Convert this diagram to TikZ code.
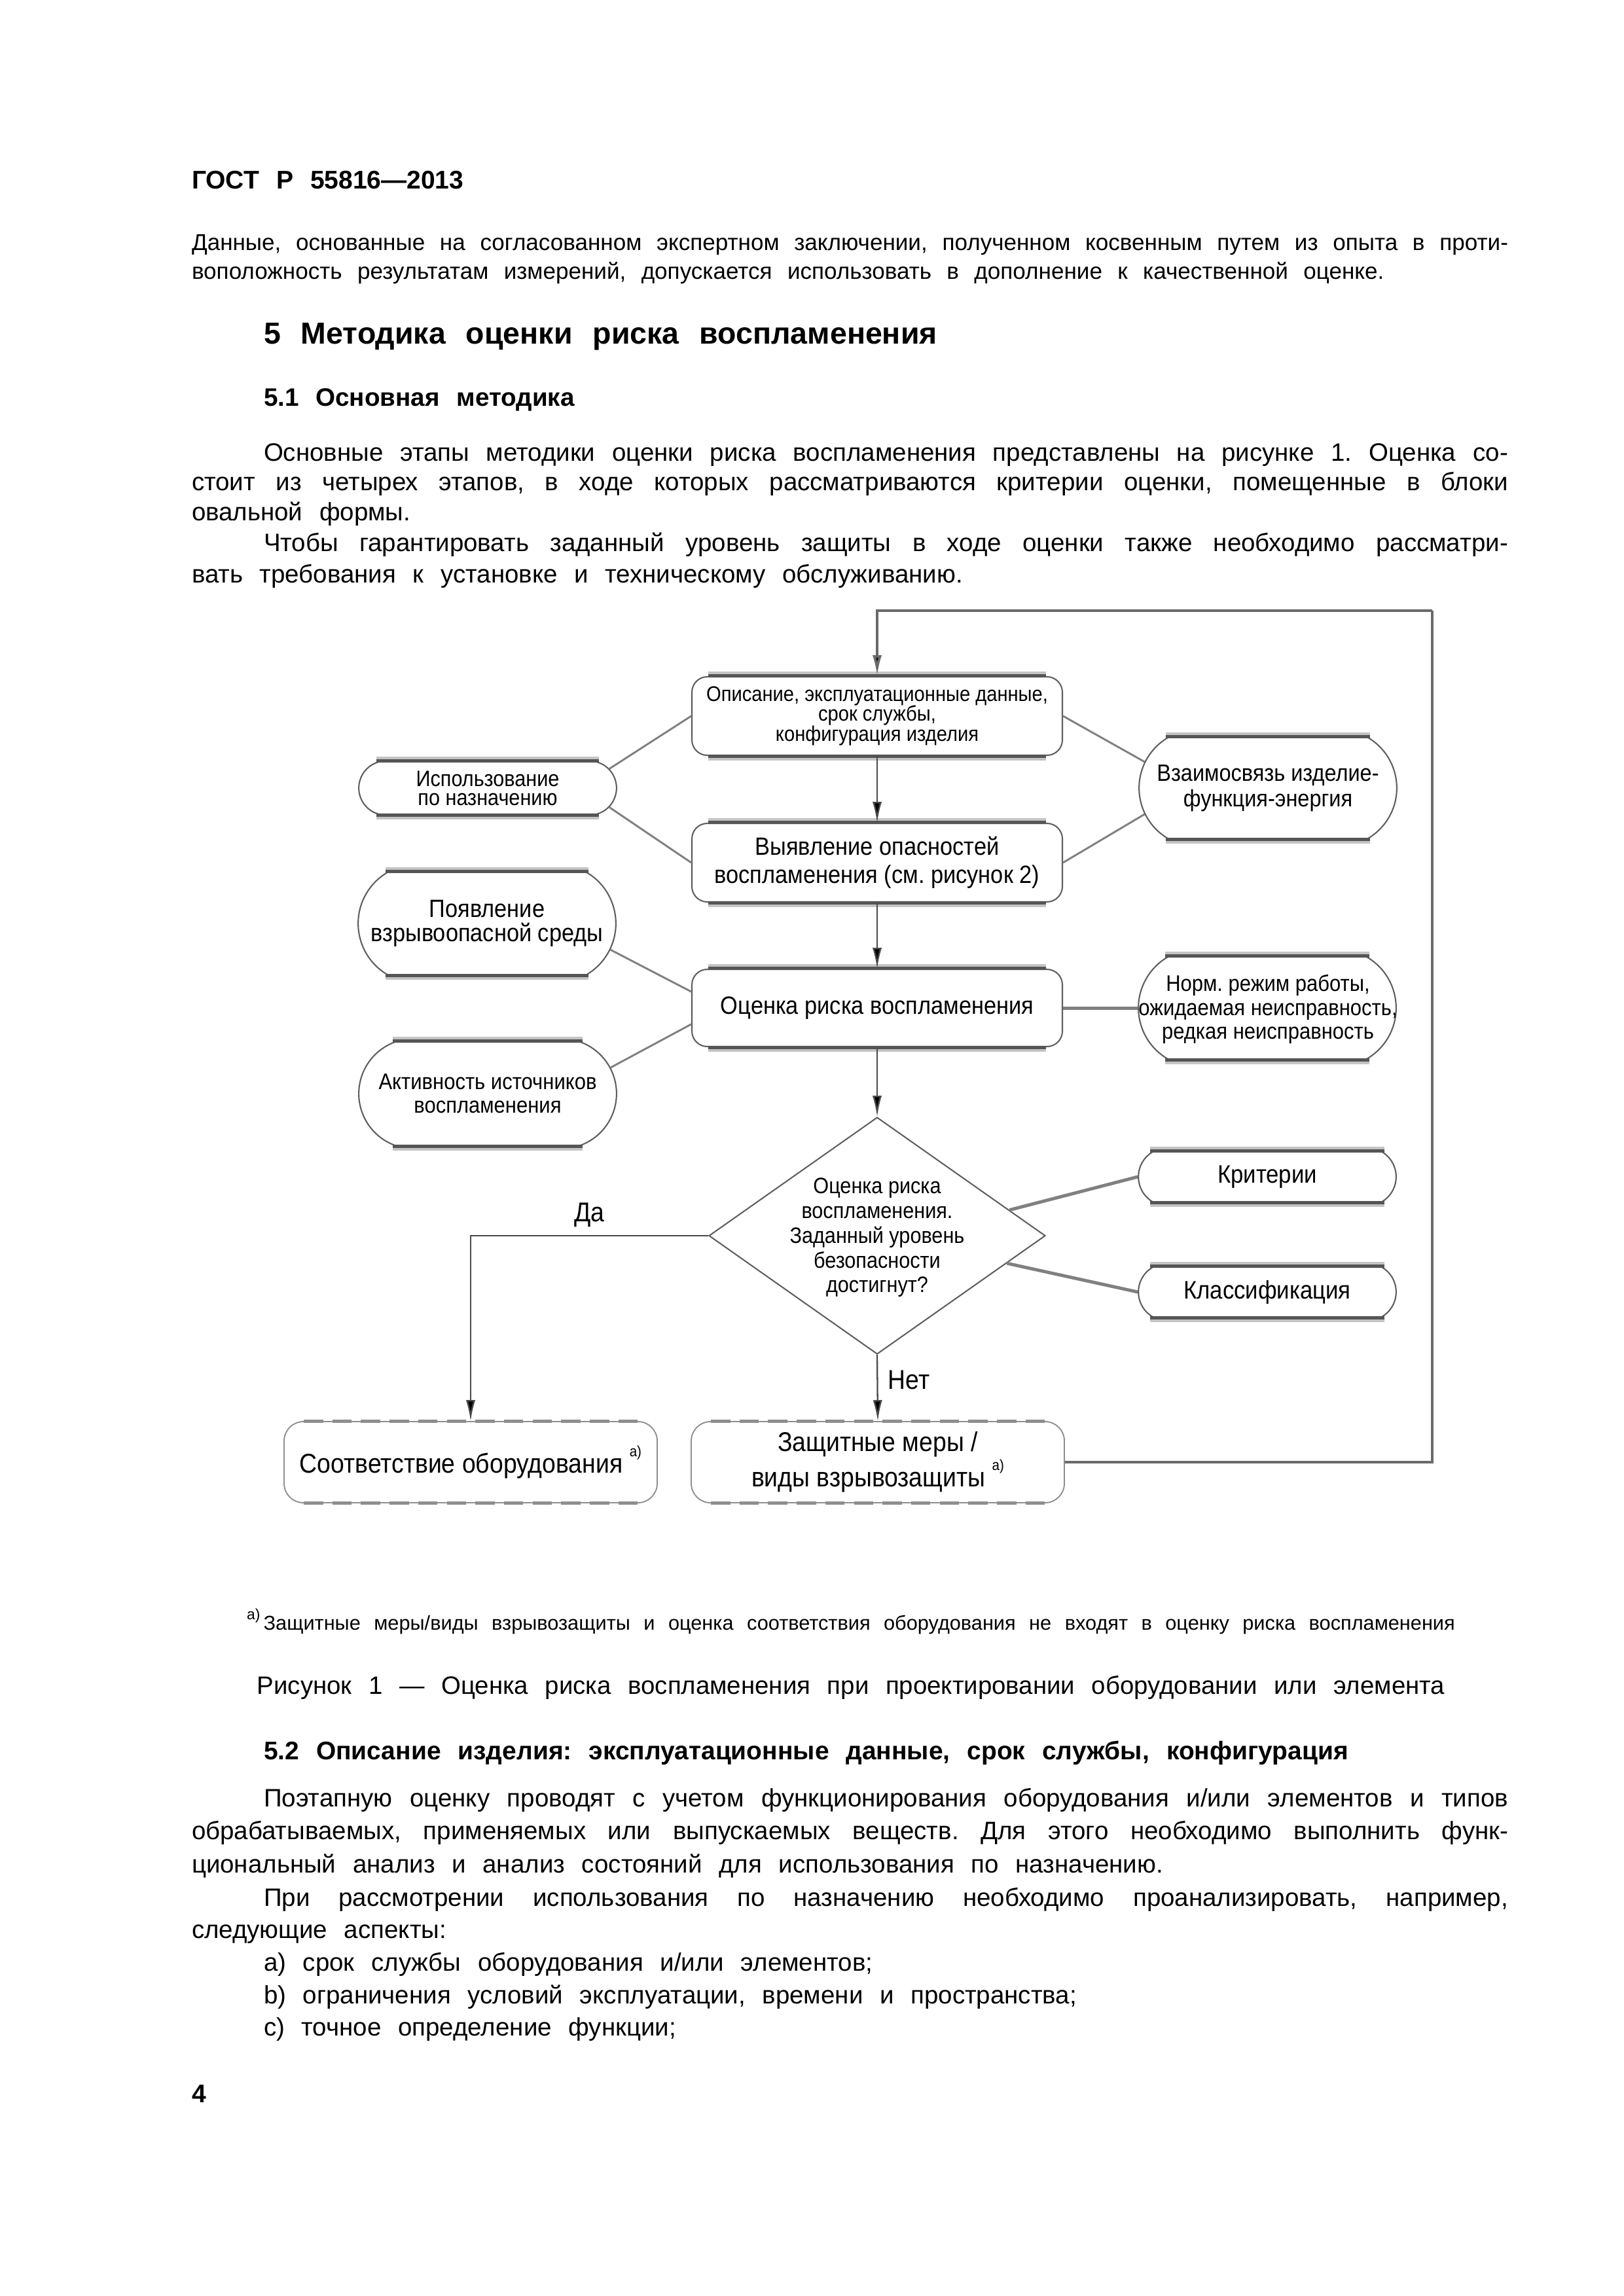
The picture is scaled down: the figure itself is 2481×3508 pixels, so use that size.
\documentclass[tikz,border=0pt]{standalone}
\usepackage{fontspec}
\setmainfont{Liberation Sans}[WordSpace={2.4,2.4,3.2}]
\newfontfamily\dgfont[FakeStretch=0.9]{Liberation Sans}
\usetikzlibrary{arrows.meta,shapes.geometric,shapes.misc,calc}
\newlength\pxu
\setlength\pxu{0.0846667mm}
\newcommand\fs[2]{\fontsize{#1}{#2}\selectfont}
\newcommand\bodyf{\fs{9.27}{11}}
\newcommand\smallbodyf{\fs{8.45}{10}}
\newcommand\supa{\raisebox{0.6em}{\fs{5.5}{6}a)}}
\newcommand\tightlines{\lineskiplimit=-\maxdimen}
\definecolor{edgec}{HTML}{5E5E5E}
\definecolor{bardc}{HTML}{555555}
\definecolor{barlc}{HTML}{C4C4C4}
\definecolor{lnkc}{HTML}{808080}
\definecolor{arrc}{HTML}{4A4A4A}
\definecolor{dashc}{HTML}{8E8E8E}
\definecolor{loopc}{HTML}{6A6A6A}
\newcommand\bars[2]{%
 \draw[barshade] ([xshift=-#2*\pxu,yshift=1.1pt]#1.north) -- ([xshift=#2*\pxu,yshift=1.1pt]#1.north);
 \draw[barshade] ([xshift=-#2*\pxu,yshift=-1.1pt]#1.south) -- ([xshift=#2*\pxu,yshift=-1.1pt]#1.south);
 \draw[bar] ([xshift=-#2*\pxu]#1.north) -- ([xshift=#2*\pxu]#1.north);
 \draw[bar] ([xshift=-#2*\pxu]#1.south) -- ([xshift=#2*\pxu]#1.south);}
\newcommand\dbars[2]{%
 \draw[dashbar] ([xshift=-#2*\pxu]#1.north) -- ([xshift=#2*\pxu]#1.north);
 \draw[dashbar] ([xshift=-#2*\pxu]#1.south) -- ([xshift=#2*\pxu]#1.south);}
\tikzset{
 txt/.style={anchor=base west, inner sep=0pt, outer sep=0pt},
 ctxt/.style={anchor=base, inner sep=0pt, outer sep=0pt},
 procbox/.style={draw=edgec, line width=0.5pt, rounded corners=2mm, fill=white,
   minimum width=566*\pxu, minimum height=120*\pxu, inner sep=1pt, align=center},
 oval/.style={rounded rectangle, draw=edgec, line width=0.5pt, fill=white,
   inner sep=1pt, align=center, minimum width=402*\pxu},
 dbox/.style={draw=dashc, line width=0.45pt, rounded corners=2.5mm, fill=white,
   minimum width=570*\pxu, minimum height=124*\pxu, inner sep=1pt, align=center},
 bar/.style={draw=bardc, line width=1.2pt, line cap=butt},
 barshade/.style={draw=barlc, line width=1pt, line cap=butt},
 dashbar/.style={draw=dashc, line width=1.2pt, dash pattern=on 2.5mm off 1.2mm},
 lnk/.style={draw=lnkc, line width=0.7pt},
 lnkthick/.style={draw=lnkc, line width=1.2pt},
 arrow/.style={draw=arrc, line width=0.55pt, -{Latex[length=2.7mm,width=1.2mm,fill=black]}},
 loopln/.style={draw=loopc, line width=0.9pt},
 lbl/.style={font=\dgfont\fs{10}{12}, inner sep=0pt},
}
\frenchspacing
\begin{document}
\begin{tikzpicture}[x=0.0846667mm, y=-0.0846667mm]
\fill[white] (0,0) rectangle (2481,3508);
\useasboundingbox (0,0) rectangle (2481,3508);

% ---------- page text (top) ----------
\node[txt] (hdr) at (293,288) {\fs{9.4}{12}\bfseries ГОСТ Р 55816—2013};
\node[txt] (l01) at (293,382) {\smallbodyf\makebox[170.27mm][s]{Данные, основанные на согласованном экспертном заключении, полученном косвенным путем из опыта в проти-}};
\node[txt] (l02) at (293,426) {\smallbodyf воположность результатам измерений, допускается использовать в дополнение к качественной оценке.};
\node[txt] (h5) at (403,525) {\fs{11.2}{13}\bfseries 5 Методика оценки риска воспламенения};
\node[txt] (h51) at (403,620) {\fs{9.3}{11}\bfseries 5.1 Основная методика};
\node[txt] (l03) at (403,704) {\bodyf\makebox[160.95mm][s]{Основные этапы методики оценки риска воспламенения представлены на рисунке 1. Оценка со-}};
\node[txt] (l04) at (293,749) {\bodyf\makebox[170.27mm][s]{стоит из четырех этапов, в ходе которых рассматриваются критерии оценки, помещенные в блоки}};
\node[txt] (l05) at (293,795) {\bodyf овальной формы.};
\node[txt] (l06) at (403,842) {\bodyf\makebox[160.95mm][s]{Чтобы гарантировать заданный уровень защиты в ходе оценки также необходимо рассматри-}};
\node[txt] (l07) at (293,890) {\bodyf вать требования к установке и техническому обслуживанию.};

% ---------- diagram ----------
\node[procbox, font=\dgfont\fs{7.8}{7.4}\tightlines] (b1) at (1340,1094) {Описание, эксплуатационные данные,\\срок службы,\\конфигурация изделия};
\node[procbox, font=\dgfont\fs{9.2}{10.4}] (b2) at (1340,1318) {Выявление опасностей\\воспламенения (см. рисунок 2)};
\node[procbox, font=\dgfont\fs{9.2}{10.4}, minimum height=118*\pxu] (b3) at (1340,1540) {Оценка риска воспламенения};
\node[diamond, draw=edgec, line width=0.5pt, fill=white, inner sep=0pt,
      minimum width=514*\pxu, minimum height=362*\pxu] (dec) at (1340,1888) {};
\node[font=\dgfont\fs{8.2}{9.1}, align=center, inner sep=0pt] (dect) at (1340,1891)
      {Оценка риска\\воспламенения.\\Заданный уровень\\безопасности\\достигнут?};

\node[oval, font=\dgfont\fs{8.2}{7}\tightlines, rounded rectangle arc length=150, minimum height=80*\pxu] (use) at (745,1204)
      {Использование\\по назначению};
\node[oval, font=\dgfont\fs{9.2}{9}, rounded rectangle arc length=120, minimum height=157*\pxu] (pov) at (744,1411)
      {Появление\\взрывоопасной среды};
\node[oval, font=\dgfont\fs{8.3}{8.6}, rounded rectangle arc length=140, minimum height=158*\pxu] (akt) at (745,1671)
      {Активность источников\\воспламенения};
\node[oval, font=\dgfont\fs{8.7}{9.4}, rounded rectangle arc length=120, minimum height=155*\pxu] (vz) at (1937,1204)
      {Взаимосвязь изделие-\\функция-энергия};
\node[oval, rounded rectangle arc length=120, minimum height=156*\pxu] (norm) at (1936,1540) {};
\node[font=\dgfont\fs{8.3}{8.8}, align=center, inner sep=0pt] (normt) at (1937,1542)
      {Норм. режим работы,\\ожидаемая неисправность,\\редкая неисправность};
\node[oval, font=\dgfont\fs{9.3}{10}, rounded rectangle arc length=120, minimum height=77*\pxu] (krit) at (1936,1798)
      {Критерии};
\node[oval, font=\dgfont\fs{9.3}{10}, rounded rectangle arc length=120, minimum height=76*\pxu] (klass) at (1936,1974)
      {Классификация};

\node[dbox, font=\dgfont\fs{10}{9.5}] (soot) at (719,2234) {Соответствие оборудования \supa};
\node[dbox, font=\dgfont\fs{10}{9.5}] (zasch) at (1341,2234) {Защитные меры /\\виды взрывозащиты \supa};

% bars on blocks
\bars{b1}{258}\bars{b2}{258}\bars{b3}{258}
\bars{use}{170}\bars{pov}{155}\bars{akt}{145}\bars{vz}{156}\bars{norm}{156}\bars{krit}{179}\bars{klass}{179}
\dbars{soot}{255}\dbars{zasch}{255}

% criteria links
\draw[lnk] (use.9) -- (b1.west);
\draw[lnk] (use.-9) -- (b2.west);
\draw[lnk] (b1.east) -- (vz.168);
\draw[lnk] (b2.east) -- (vz.192);
\draw[lnk] (pov.-12) -- (b3.175);
\draw[lnk] (akt.12) -- (b3.185);
\draw[lnkthick] (b3.east) -- (norm.west);
\draw[lnkthick] (dec.11) -- (krit.west);
\draw[lnkthick] (dec.-12) -- (klass.west);

% flow arrows
\draw[arrow] (b1.south) -- (b2.north);
\draw[arrow] (b2.south) -- (b3.north);
\draw[arrow] (b3.south) -- (dec.north);
\draw[arrow] (dec.south) -- node[lbl, pos=0.38, right=15*\pxu] (net) {Нет} (zasch.north);
\draw[arrow] (dec.west) -| node[lbl, pos=0.25, above=12*\pxu] (da) {Да} (soot.north);

% feedback loop
\coordinate (ur) at (2188,933);
\draw[loopln] (zasch.east) -| (ur);
\draw[loopln, -{Latex[length=2.7mm,width=1.2mm,fill=black]}] (ur) -| (b1.north);

% ---------- page text (bottom) ----------
\node[ctxt] (fn) at (1300,2490) {\fs{7.4}{9}\raisebox{0.5em}{\fs{5.5}{6}a)}\,Защитные меры/виды взрывозащиты и оценка соответствия оборудования не входят в оценку риска воспламенения};
\node[ctxt] (cap) at (1300,2588) {\fs{9.25}{11}Рисунок 1 — Оценка риска воспламенения при проектировании оборудовании или элемента};
\node[txt] (h52) at (403,2688) {\fs{9.38}{11}\bfseries 5.2 Описание изделия: эксплуатационные данные, срок службы, конфигурация};
\node[txt] (l11) at (403,2760) {\bodyf\makebox[160.95mm][s]{Поэтапную оценку проводят с учетом функционирования оборудования и/или элементов и типов}};
\node[txt] (l12) at (293,2810) {\bodyf\makebox[170.27mm][s]{обрабатываемых, применяемых или выпускаемых веществ. Для этого необходимо выполнить функ-}};
\node[txt] (l13) at (293,2861) {\bodyf циональный анализ и анализ состояний для использования по назначению.};
\node[txt] (l14) at (403,2912) {\bodyf\makebox[160.95mm][s]{При рассмотрении использования по назначению необходимо проанализировать, например,}};
\node[txt] (l15) at (293,2961) {\bodyf следующие аспекты:};
\node[txt] (l16) at (403,3011) {\bodyf a) срок службы оборудования и/или элементов;};
\node[txt] (l17) at (403,3061) {\bodyf b) ограничения условий эксплуатации, времени и пространства;};
\node[txt] (l18) at (403,3110) {\bodyf c) точное определение функции;};
\node[txt] (pgn) at (293,3212) {\fs{9.4}{12}\bfseries 4};
\end{tikzpicture}
\end{document}
